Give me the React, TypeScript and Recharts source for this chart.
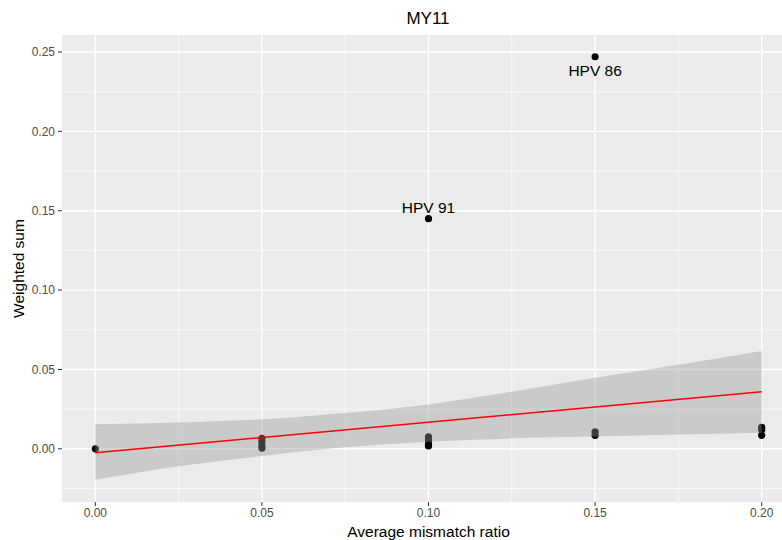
import React from 'react';
import {
  ComposedChart, Scatter, Line, Area, XAxis, YAxis, CartesianGrid, LabelList, Text,
} from 'recharts';

// observed points
const ratioX = [0, 0.05, 0.05, 0.05, 0.05, 0.1, 0.1, 0.1, 0.1, 0.1, 0.15, 0.15, 0.15, 0.2, 0.2, 0.2];
const weightedY = [0, 0.0066, 0.0045, 0.002, 0.0005, 0.145, 0.0076, 0.0055, 0.003, 0.0018, 0.247, 0.0107, 0.0085, 0.0135, 0.012, 0.0085];
const pointNames = ['', '', '', '', '', 'HPV 91', '', '', '', '', 'HPV 86', '', '', '', '', ''];

// fitted line + confidence band
const fitX = [0, 0.2];
const fitY = [-0.0025, 0.036];
const bandX = [0, 0.025, 0.05, 0.075, 0.1, 0.125, 0.15, 0.175, 0.2];
const bandLow = [-0.0195, -0.011, -0.0045, 0.001, 0.0045, 0.0066, 0.0078, 0.009, 0.0102];
const bandHigh = [0.0155, 0.0166, 0.0186, 0.0225, 0.028, 0.036, 0.0447, 0.053, 0.0617];

const xTicks = [0, 0.05, 0.1, 0.15, 0.2];
const xMinor = [0.025, 0.075, 0.125, 0.175];
const yTicks = [0, 0.05, 0.1, 0.15, 0.2, 0.25];
const yMinor = [-0.025, 0.025, 0.075, 0.125, 0.175, 0.225];

const points = ratioX.map((x, i) => ({ x, y: weightedY[i], name: pointNames[i] }));
const fit = fitX.map((x, i) => ({ x, y: fitY[i] }));
const band = bandX.map((x, i) => ({ x, band: [bandLow[i], bandHigh[i]] }));

const FONT = '"Liberation Sans", Arial, sans-serif';

const PointLabel = (props: any) => {
  const { x, y, width, height, value } = props;
  if (!value) return null;
  const cx = x + width / 2;
  const cy = y + height / 2;
  const below = value === 'HPV 86';
  return (
    <text
      x={cx}
      y={below ? cy + 19 : cy - 6}
      textAnchor="middle"
      fontSize={15.5}
      fontFamily={FONT}
      fill="#000"
    >
      {value}
    </text>
  );
};

export default function App() {
  return (
    <div style={{ position: 'absolute', left: 0, top: 0, width: 782, height: 540, overflow: 'hidden', background: '#fff' }}>
      <ComposedChart width={800} height={540} margin={{ top: 35, right: 5, bottom: 0, left: 0 }}>
        <CartesianGrid
          fill="#EBEBEB"
          stroke="#FFFFFF"
          strokeWidth={0.7}
          horizontalValues={yMinor}
          verticalValues={xMinor}
        />
        <CartesianGrid
          fill="none"
          stroke="#FFFFFF"
          strokeWidth={1.4}
          horizontalValues={yTicks}
          verticalValues={xTicks}
        />
        <XAxis
          type="number"
          dataKey="x"
          domain={[-0.01, 0.21]}
          ticks={xTicks}
          tickFormatter={(v: number) => v.toFixed(2)}
          allowDataOverflow
          axisLine={false}
          tickLine={{ stroke: '#333333' }}
          tickSize={4}
          tickMargin={2}
          height={38}
          tick={{ fill: '#4D4D4D', fontSize: 12, fontFamily: FONT }}
          label={{ value: 'Average mismatch ratio', position: 'insideBottom', offset: 3, fill: '#000', fontSize: 15.5, fontFamily: FONT }}
        />
        <YAxis
          type="number"
          dataKey="y"
          domain={[-0.0335, 0.2607]}
          ticks={yTicks}
          tickFormatter={(v: number) => v.toFixed(2)}
          allowDataOverflow
          axisLine={false}
          tickLine={{ stroke: '#333333' }}
          tickSize={4}
          tickMargin={3}
          width={62}
          tick={{ fill: '#4D4D4D', fontSize: 12, fontFamily: FONT }}
          label={{ value: 'Weighted sum', angle: -90, position: 'insideLeft', offset: 18, fill: '#000', fontSize: 15.5, fontFamily: FONT, style: { textAnchor: 'middle' } }}
        />
        <Scatter
          data={points}
          fill="#000000"
          isAnimationActive={false}
          zIndex={300}
          shape={(p: any) => <circle cx={p.cx} cy={p.cy} r={3.6} fill="#000" />}
        >
          <LabelList dataKey="name" content={<PointLabel />} />
        </Scatter>
        <Area
          data={band}
          dataKey="band"
          type="monotone"
          stroke="none"
          fill="#999999"
          fillOpacity={0.4}
          isAnimationActive={false}
          activeDot={false}
          dot={false}
          zIndex={700}
        />
        <Line
          data={fit}
          dataKey="y"
          type="linear"
          stroke="#FF0000"
          strokeWidth={1.5}
          dot={false}
          activeDot={false}
          isAnimationActive={false}
          zIndex={800}
        />
        <Text x={428} y={18} textAnchor="middle" verticalAnchor="middle" fontSize={17} fontFamily={FONT} fill="#000">
          MY11
        </Text>
      </ComposedChart>
    </div>
  );
}
